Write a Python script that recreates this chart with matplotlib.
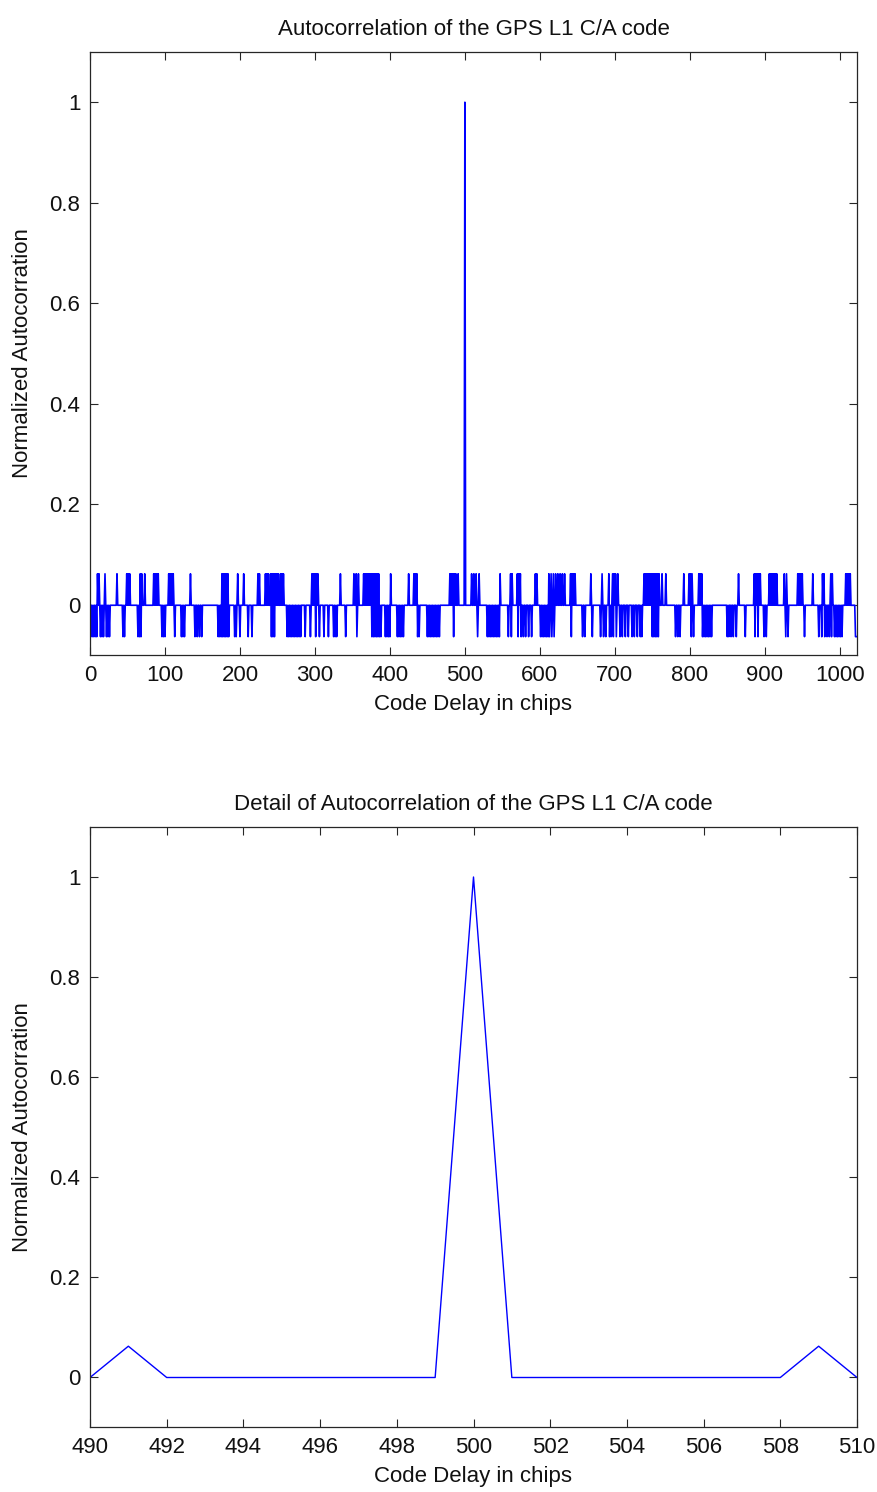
import numpy as np
import matplotlib
matplotlib.use("Agg")
import matplotlib.pyplot as plt

# ---- data ----
n_chips = 1023
peak_delay = 500
level_peak = 1.0
level_pos = 0.0616
level_neg = -0.0635
level_base = -0.001

pos_delays = [10, 12, 20, 36, 49, 51, 53, 67, 69, 73, 85, 87, 89, 91, 105, 107, 109, 111, 134,
              176, 178, 180, 182, 184, 197, 205, 224, 226, 234, 236, 238, 241, 243, 245, 247, 249,
              251, 254, 256, 258, 296, 298, 300, 302, 304, 334,
              352, 355, 358, 365, 367, 369, 371, 373, 375, 377, 379, 381, 383, 385, 401, 425, 432,
              434, 436, 480, 482, 484, 486, 488, 491, 509, 512,
              515, 519, 547, 561, 563, 570, 572, 574, 594, 596, 612, 615, 618, 621, 624, 627, 630,
              633, 641, 643, 645, 647, 668, 683, 692,
              697, 699, 701, 704, 739, 741, 743, 745, 747, 749, 751, 753, 755, 757, 759, 763, 768,
              792, 799, 801, 803, 812, 814, 816,
              865, 886, 888, 890, 892, 894, 906, 908, 910, 912, 914, 916, 926, 929, 944, 946, 948,
              950, 964, 977, 979, 988, 990, 1008, 1010, 1012, 1014]

neg_delays = [1, 3, 5, 7, 9, 14, 16, 18, 22, 24, 26, 44, 46, 64, 66, 68, 96, 98, 100, 113, 122, 124,
              126, 140, 143, 146, 149, 171,
              173, 175, 177, 179, 181, 183, 185, 193, 195, 200, 211, 216, 242, 244, 246, 263, 265,
              267, 269, 271, 273, 275, 277, 279, 281, 287, 294, 301, 306, 312, 318, 325, 327, 329,
              341, 356, 376, 378, 380, 382, 384, 386, 388, 394, 396, 398, 400, 410, 412, 414, 416,
              418, 437, 439, 450, 452, 454, 456, 458, 460, 462, 464, 466, 485,
              517, 530, 532, 534, 536, 538, 540, 542, 544, 546, 558, 562, 571, 575, 578, 581, 585,
              589, 601, 603, 605, 607, 609, 611, 613, 616, 619, 642, 657, 660, 670, 681, 685, 693,
              688, 695, 698, 702, 707, 710, 714, 718, 723, 726, 730, 734, 736, 750, 752, 754, 756,
              758, 781, 784, 787, 802, 805, 817, 819, 821, 823, 825, 827, 829, 850, 852, 855, 858,
              862, 874, 887, 891, 899, 902, 928, 931, 953, 972, 976, 980, 983, 986, 989, 993, 995,
              997, 999, 1001, 1003, 1021, 1022]

top_xticks = [0, 100, 200, 300, 400, 500, 600, 700, 800, 900, 1000]
bottom_xticks = [490, 492, 494, 496, 498, 500, 502, 504, 506, 508, 510]
yticks = [0, 0.2, 0.4, 0.6, 0.8, 1.0]
ytick_labels = ["0", "0.2", "0.4", "0.6", "0.8", "1"]

# build the series
delay = np.arange(n_chips)
acorr = np.full(n_chips, level_base)
acorr[pos_delays] = level_pos
acorr[neg_delays] = level_neg
acorr[peak_delay] = level_peak

# ---- plotting ----
plt.rcParams['font.family'] = ['Liberation Sans', 'DejaVu Sans']
FS = 16

fig = plt.figure(figsize=(8.78, 14.92), dpi=100)
ax1 = fig.add_axes([90/878, 1 - 655/1492, 767/878, 603/1492])
ax2 = fig.add_axes([90/878, 1 - 1427/1492, 767/878, 600/1492])

def style(ax):
    ax.tick_params(direction='in', top=True, right=True, length=5.5, width=0.8,
                   labelsize=FS, pad=7, colors='#262626', labelcolor='#111111')
    for s in ax.spines.values():
        s.set_linewidth(0.9)
        s.set_color('#262626')
    ax.set_ylim(-0.1, 1.1)
    ax.set_yticks(yticks)
    ax.set_yticklabels(ytick_labels)
    ax.set_ylabel("Normalized Autocorration", fontsize=FS, labelpad=12, color='#111111')
    ax.set_xlabel("Code Delay in chips", fontsize=FS, labelpad=6, color='#111111')

ax1.plot(delay, acorr, color='#0000FF', linewidth=1.2)
ax1.set_xlim(0, 1023)
ax1.set_xticks(top_xticks)
style(ax1)
ax1.set_title("Autocorrelation of the GPS L1 C/A code", fontsize=FS, pad=12, color='#111111')

ax2.plot(delay, acorr, color='#0000FF', linewidth=1.0)
ax2.set_xlim(490, 510)
ax2.set_xticks(bottom_xticks)
style(ax2)
ax2.set_title("Detail of Autocorrelation of the GPS L1 C/A code", fontsize=FS, pad=12, color='#111111')

fig.savefig("out.png", dpi=100, facecolor='white')
